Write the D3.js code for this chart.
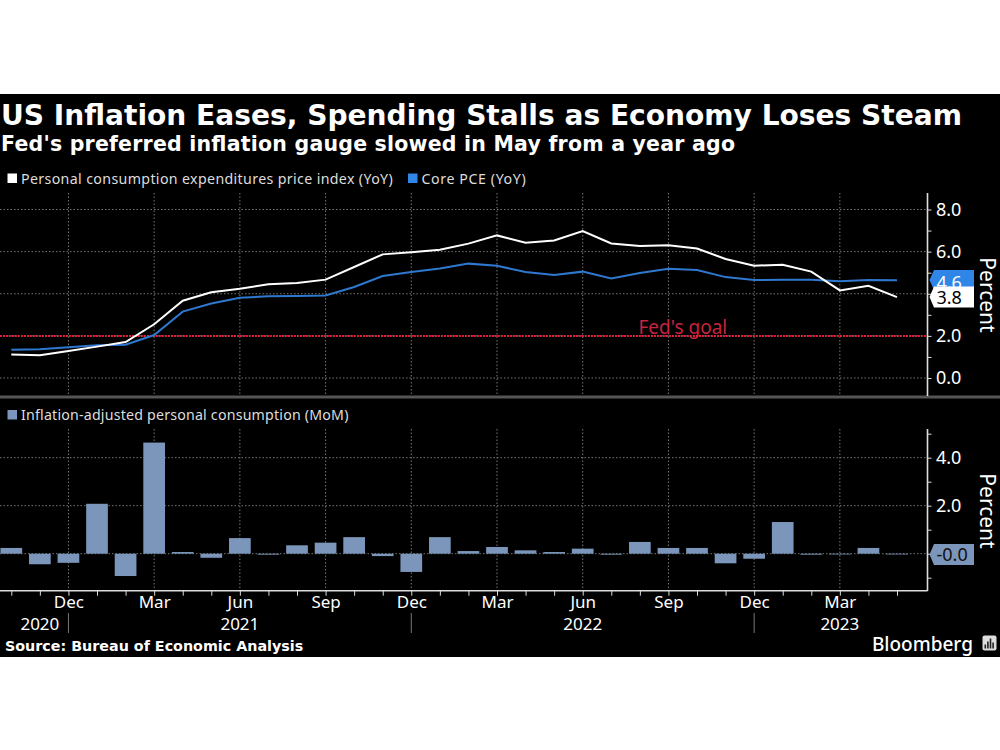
<!DOCTYPE html>
<html><head><meta charset="utf-8"><script src="https://cdn.jsdelivr.net/npm/d3@7"></script>
<style>html,body{margin:0;background:#fff}svg{display:block}text{font-family:"Noto Sans",sans-serif}
.b{font-family:"DejaVu Sans",sans-serif;font-weight:700}
.domain{display:none}</style></head><body><svg id="c" width="1000" height="750"></svg>
<script>
const months=["Oct 2020","Nov 2020","Dec 2020","Jan 2021","Feb 2021","Mar 2021","Apr 2021","May 2021","Jun 2021","Jul 2021","Aug 2021","Sep 2021","Oct 2021","Nov 2021","Dec 2021","Jan 2022","Feb 2022","Mar 2022","Apr 2022","May 2022","Jun 2022","Jul 2022","Aug 2022","Sep 2022","Oct 2022","Nov 2022","Dec 2022","Jan 2023","Feb 2023","Mar 2023","Apr 2023","May 2023"];
const pce=[1.12,1.08,1.28,1.49,1.71,2.55,3.67,4.07,4.24,4.45,4.51,4.67,5.27,5.87,5.97,6.09,6.38,6.77,6.42,6.53,6.98,6.39,6.27,6.30,6.15,5.65,5.33,5.38,5.05,4.16,4.38,3.84];
const core=[1.34,1.36,1.46,1.55,1.58,2.04,3.15,3.54,3.81,3.88,3.89,3.92,4.32,4.84,5.03,5.20,5.43,5.33,5.03,4.89,5.05,4.72,4.98,5.19,5.13,4.79,4.65,4.67,4.67,4.59,4.65,4.64];
const spend=[0.24,-0.44,-0.38,2.08,-0.93,4.63,0.07,-0.17,0.65,-0.04,0.35,0.46,0.69,-0.10,-0.76,0.69,0.11,0.28,0.14,0.07,0.21,-0.04,0.49,0.24,0.24,-0.40,-0.21,1.32,-0.04,-0.03,0.24,-0.03];
const labelledMonths=["Dec 2020","Mar 2021","Jun 2021","Sep 2021","Dec 2021","Mar 2022","Jun 2022","Sep 2022","Dec 2022","Mar 2023"];
const yearLabels=[["2020","Nov 2020"],["2021","Jun 2021"],["2022","Jun 2022"],["2023","Mar 2023"]];
const yearDividers=["Dec 2020","Dec 2021","Dec 2022"];
const topGrid=[0,2,4,6,8];const topLabelled=[0,2,6,8];const topMinor=[1,3,5,7];
const botGrid=[0,2,4];const botTicks=[-1,0,1,2,3,4,5];const botLabelled=[2,4];
const goal=2;
const title="US Inflation Eases, Spending Stalls as Economy Loses Steam";
const subtitle="Fed's preferred inflation gauge slowed in May from a year ago";
const source="Source: Bureau of Economic Analysis";

const svg=d3.select("#c");
const AX=927.5;
svg.append("rect").attr("y",94).attr("width",1000).attr("height",563).attr("fill","#000");
const x=d3.scalePoint().domain(months).range([11.3,897]);
const yT=d3.scaleLinear().domain([0,8]).range([378,209.5]);
const yB=d3.scaleLinear().domain([0,4]).range([553.7,457.7]);
const grid="#777";
function vgrid(y0,y1){svg.append("g").selectAll("line").data(labelledMonths).join("line")
 .attr("x1",d=>x(d)).attr("x2",d=>x(d)).attr("y1",y0).attr("y2",y1)
 .attr("stroke",grid).attr("stroke-dasharray","1.5 2");}
function hgrid(s,vals){svg.append("g").selectAll("line").data(vals).join("line")
 .attr("x1",0).attr("x2",AX).attr("y1",d=>s(d)).attr("y2",d=>s(d))
 .attr("stroke",grid).attr("stroke-dasharray","1.5 2");}
vgrid(193,396);vgrid(429,590);
hgrid(yT,topGrid);hgrid(yB,botGrid);
// goal
svg.append("line").attr("x1",0).attr("x2",AX).attr("y1",yT(goal)).attr("y2",yT(goal)).attr("stroke","#e8213f").attr("stroke-width",2).attr("stroke-dasharray","1.8 1.2");
svg.append("text").text("Fed's goal").attr("x",638.5).attr("y",334).attr("font-size",19).attr("fill","#c8233f");
// lines
const ln=s=>d3.line().x((d,i)=>x(months[i])).y(d=>yT(d))(s);
svg.append("path").attr("d",ln(core)).attr("fill","none").attr("stroke","#2f78cf").attr("stroke-width",2);
svg.append("path").attr("d",ln(pce)).attr("fill","none").attr("stroke","#fff").attr("stroke-width",2);
// bars
const bw=21.7;
svg.append("g").selectAll("rect").data(spend).join("rect")
 .attr("x",(d,i)=>x(months[i])-bw/2).attr("width",bw)
 .attr("y",d=>Math.min(yB(d),yB(0))).attr("height",d=>Math.abs(yB(d)-yB(0)))
 .attr("fill","#7b96ba");
// separator
svg.append("rect").attr("y",395.5).attr("width",1000).attr("height",3).attr("fill","#555");
// axes
function axisStyle(g){g.selectAll("text").attr("fill","#fff").attr("font-family",'"Noto Sans",sans-serif');g.selectAll("line").attr("stroke","#ddd");}
const ra=(s,vals,labelled,y0,y1)=>{
 const g=svg.append("g").attr("transform",`translate(${AX},0)`).call(d3.axisRight(s).tickValues(vals).tickSize(4).tickPadding(4.5).tickFormat(d=>labelled.includes(d)?d.toFixed(1):""));
 g.selectAll("text").attr("font-size",18);axisStyle(g);
 g.selectAll("text").filter(function(){return !this.textContent;}).remove();
 svg.append("line").attr("x1",AX).attr("x2",AX).attr("y1",y0).attr("y2",y1).attr("stroke","#ddd").attr("stroke-width",1.6);
};
ra(yT,[...topGrid,...topMinor],topLabelled,193,396);
ra(yB,botTicks,botLabelled,429,591);
const ba=svg.append("g").attr("transform","translate(0,590.7)").call(d3.axisBottom(x).tickSize(5).tickPadding(0).tickFormat(d=>labelledMonths.includes(d)?d.slice(0,3):""));
ba.selectAll("text").attr("font-size",17);axisStyle(ba);
ba.selectAll("text").filter(function(){return !this.textContent;}).remove();
svg.append("line").attr("x1",0).attr("x2",AX).attr("y1",590.7).attr("y2",590.7).attr("stroke","#ddd").attr("stroke-width",1.5);
svg.append("g").selectAll("text").data(yearLabels).join("text").text(d=>d[0])
 .attr("x",d=>x(d[1])).attr("y",630).attr("text-anchor","middle").attr("font-size",17).attr("fill","#fff");
svg.append("g").selectAll("line").data(yearDividers).join("line").attr("x1",d=>x(d)).attr("x2",d=>x(d)).attr("y1",613).attr("y2",633).attr("stroke","#777");
// end labels
function tag(yc,h,fill,txt,col,dy){const x0=934,x1=974,t=yc-h/2,b=yc+h/2;
 svg.append("path").attr("d",`M${x0-4.5},${yc}L${x0},${t}L${x1},${t}L${x1},${b}L${x0},${b}Z`).attr("fill",fill);
 svg.append("text").text(txt).attr("x",x0+2.5).attr("y",yc+dy).attr("font-size",18).attr("fill",col);}
tag(280,20,"#2f86e6",core[31].toFixed(1),"#fff",9);
tag(297,21,"#fff",pce[31].toFixed(1),"#000",6.5);
tag(554.5,21,"#7b96ba","-0.0","#111",6.5);
// titles
svg.append("text").attr("class","b").text(title).attr("x",1).attr("y",125).attr("font-size",29).attr("textLength",961).attr("lengthAdjust","spacingAndGlyphs").attr("fill","#fff");
svg.append("text").attr("class","b").text(subtitle).attr("x",1).attr("y",151).attr("font-size",20.5).attr("textLength",734).attr("fill","#fff");
// legends
function leg(x0,y0,c,t,ls){svg.append("rect").attr("x",x0).attr("y",y0).attr("width",9.5).attr("height",9.5).attr("fill",c);
 svg.append("text").text(t).attr("x",x0+13.5).attr("y",y0+10).attr("font-size",14.2).attr("letter-spacing",ls).attr("fill","#ddd");}
leg(7.5,173.5,"#fff","Personal consumption expenditures price index (YoY)",0.36);
leg(408,173.5,"#2f86e6","Core PCE (YoY)",0.6);
leg(7.5,410,"#7b96ba","Inflation-adjusted personal consumption (MoM)",0.2);
// percent
[295,511].forEach(cy=>svg.append("text").text("Percent").attr("transform",`translate(979.5,${cy}) rotate(90)`).attr("text-anchor","middle").attr("font-size",21).attr("fill","#fff"));
// source
svg.append("text").attr("class","b").text(source).attr("x",5).attr("y",651).attr("font-size",14.3).attr("fill","#fff");
svg.append("text").text("Bloomberg").attr("x",973).attr("y",651).attr("text-anchor","end").attr("font-size",19).attr("font-weight",500).attr("fill","#fff");
svg.append("rect").attr("x",982.5).attr("y",635.5).attr("width",14).attr("height",15).attr("rx",2).attr("fill","#ddd");
svg.append("g").selectAll("rect").data([4,7,10,6]).join("rect").attr("x",(d,i)=>984.5+i*2.6).attr("y",d=>648.5-d).attr("width",1.6).attr("height",d=>d).attr("fill","#222");
</script></body></html>
